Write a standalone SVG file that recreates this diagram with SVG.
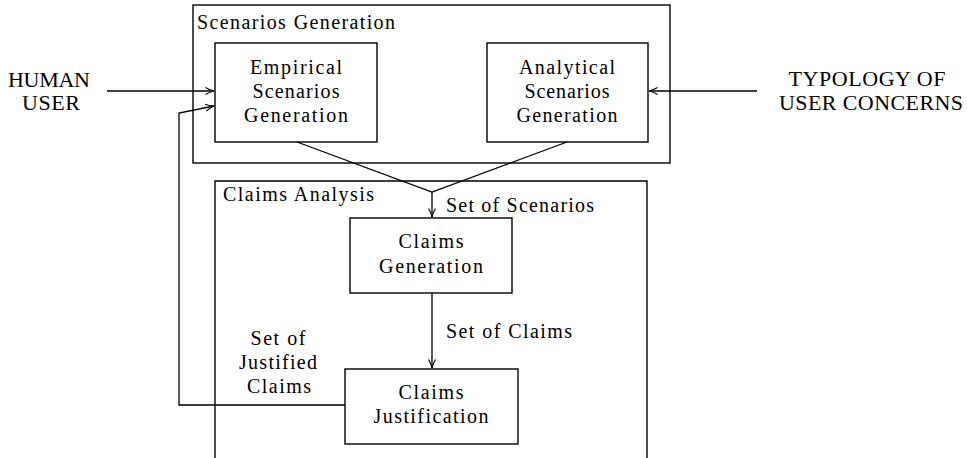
<svg xmlns="http://www.w3.org/2000/svg" width="967" height="458" viewBox="0 0 967 458">
  <style>
    .box { fill: none; stroke: #000; stroke-width: 1.4; }
    .edge { fill: none; stroke: #000; stroke-width: 1.3; }
  </style>
  <defs>
    <marker id="arrow" viewBox="0 0 10 10" refX="9.5" refY="5" markerWidth="10" markerHeight="10" markerUnits="userSpaceOnUse" orient="auto">
      <path d="M1,1.5 Q5,4 9.5,5 Q5,6 1,8.5" fill="none" stroke="#000" stroke-width="1.2"/>
    </marker>
  </defs>

  <rect width="967" height="458" fill="#fff"/>

  <!-- enclosing stage boxes -->
  <g id="scenarios-generation">
    <rect class="box" x="193" y="5" width="477" height="158"/>
    <text font-family="Liberation Serif" font-size="20" x="197" y="29" textLength="198">Scenarios Generation</text>
  </g>
  <g id="claims-analysis">
    <path class="box" d="M215,458 V181 H647 V458"/>
    <text font-family="Liberation Serif" font-size="20" x="223" y="201" textLength="151">Claims Analysis</text>
  </g>

  <!-- process nodes -->
  <g id="empirical" font-family="Liberation Serif" font-size="20" text-anchor="middle">
    <rect class="box" x="215" y="43" width="162" height="99"/>
    <text font-family="Liberation Serif" x="296" y="74" textLength="92">Empirical</text>
    <text font-family="Liberation Serif" x="296" y="98" textLength="87">Scenarios</text>
    <text font-family="Liberation Serif" x="296" y="122" textLength="104">Generation</text>
  </g>
  <g id="analytical" font-family="Liberation Serif" font-size="20" text-anchor="middle">
    <rect class="box" x="487" y="43" width="161" height="99"/>
    <text font-family="Liberation Serif" x="567" y="74" textLength="96">Analytical</text>
    <text font-family="Liberation Serif" x="567" y="98" textLength="85">Scenarios</text>
    <text font-family="Liberation Serif" x="567" y="122" textLength="101">Generation</text>
  </g>
  <g id="claims-generation" font-family="Liberation Serif" font-size="20" text-anchor="middle">
    <rect class="box" x="350" y="218" width="162" height="75"/>
    <text font-family="Liberation Serif" x="431" y="248" textLength="65">Claims</text>
    <text font-family="Liberation Serif" x="431" y="273" textLength="104">Generation</text>
  </g>
  <g id="claims-justification" font-family="Liberation Serif" font-size="20" text-anchor="middle">
    <rect class="box" x="345" y="369" width="173" height="75"/>
    <text font-family="Liberation Serif" x="431" y="399" textLength="65">Claims</text>
    <text font-family="Liberation Serif" x="431" y="423" textLength="115">Justification</text>
  </g>

  <!-- external sources -->
  <g id="human-user" font-family="Liberation Serif" font-size="22" text-anchor="middle">
    <text font-family="Liberation Serif" x="49" y="87" textLength="82">HUMAN</text>
    <text font-family="Liberation Serif" x="51" y="110" textLength="58">USER</text>
  </g>
  <g id="typology" font-family="Liberation Serif" font-size="22" text-anchor="middle">
    <text font-family="Liberation Serif" x="867" y="86" textLength="157">TYPOLOGY OF</text>
    <text font-family="Liberation Serif" x="871" y="110" textLength="184">USER CONCERNS</text>
  </g>

  <!-- connectors -->
  <g id="connectors">
    <line class="edge" x1="107" y1="91" x2="214" y2="91" marker-end="url(#arrow)"/>
    <line class="edge" x1="757" y1="91" x2="649" y2="91" marker-end="url(#arrow)"/>
    <polyline class="edge" points="297,142 432,192 567,142"/>
    <line class="edge" x1="432" y1="192" x2="432" y2="217" marker-end="url(#arrow)"/>
    <line class="edge" x1="432" y1="293" x2="432" y2="368" marker-end="url(#arrow)"/>
    <polyline class="edge" points="345,405 179,405 179,113 214,106" marker-end="url(#arrow)"/>
  </g>

  <!-- connector labels -->
  <g id="labels" font-family="Liberation Serif" font-size="20">
    <text font-family="Liberation Serif" x="446" y="212" textLength="148">Set of Scenarios</text>
    <text font-family="Liberation Serif" x="446" y="338" textLength="126">Set of Claims</text>
    <text font-family="Liberation Serif" x="278" y="345" text-anchor="middle" textLength="55">Set of</text>
    <text font-family="Liberation Serif" x="278" y="369" text-anchor="middle" textLength="78">Justified</text>
    <text font-family="Liberation Serif" x="279" y="393" text-anchor="middle" textLength="64">Claims</text>
  </g>
</svg>
